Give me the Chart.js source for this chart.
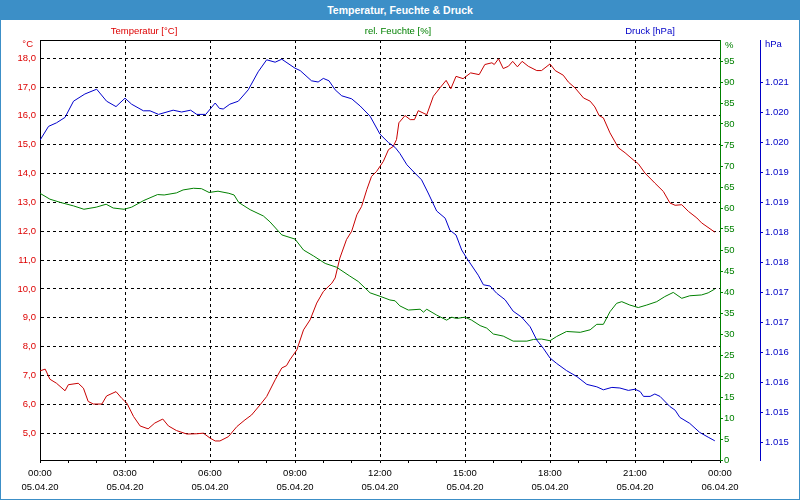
<!DOCTYPE html>
<html>
<head>
<meta charset="utf-8">
<script src="https://cdn.jsdelivr.net/npm/chart.js@4/dist/chart.umd.min.js"></script>
<style>
  body { margin: 0; background: #fff; font-family: "Liberation Sans", Arial, sans-serif; }
  #wrap { position: relative; width: 800px; height: 500px; overflow: hidden; }
  #frame { position: absolute; left: 0; top: 0; width: 800px; height: 500px; box-sizing: border-box;
           border: 1px solid #3c8fc7; pointer-events: none; }
  #title { position: absolute; left: 0; top: 0; width: 800px; height: 20px; background: #3c8fc7;
           color: #fff; font-weight: bold; font-size: 10.5px; line-height: 20px; text-align: center; }
  canvas { position: absolute; left: 0; top: 0; }
  .lbl { position: absolute; font-size: 9.5px; white-space: nowrap; line-height: 12px; }
</style>
</head>
<body>
<div id="wrap">
  <canvas id="chart" width="800" height="500"></canvas>
  <div id="title">Temperatur, Feuchte &amp; Druck</div>
  <div class="lbl" style="left:144px;top:25px;transform:translateX(-50%);color:#dd0000">Temperatur [°C]</div>
  <div class="lbl" style="left:398px;top:25px;transform:translateX(-50%);color:#008000">rel. Feuchte [%]</div>
  <div class="lbl" style="left:650px;top:25px;transform:translateX(-50%);color:#0000c8">Druck [hPa]</div>
  <div class="lbl" style="right:767px;top:38px;color:#dd0000">°C</div>
  <div class="lbl" style="left:725px;top:39px;color:#008000">%</div>
  <div class="lbl" style="left:765px;top:38px;color:#0000c8">hPa</div>
  <div id="frame"></div>
</div>
<script>
// === Data (time in minutes since 05.04.20 00:00) ===
const tempTime = [0,11,21,35,53,60,81,92,102,113,131,141,161,173,184,198,212,229,243,260,
  272,289,311,332,346,360,371,381,399,417,434,448,466,480,498,512,522,529,544,558,
  572,586,600,618,625,635,649,660,671,681,692,702,713,727,738,748,755,760,773,784,
  793,801,819,833,847,860,870,881,896,912,930,942,957,962,971,981,992,1001,1011,1021,
  1034,1052,1062,1080,1091,1108,1119,1133,1151,1165,1175,1184,1193,1207,1225,1239,1256,1267,1281,1302,
  1320,1334,1345,1359,1373,1391,1401,1429];
const tempVal = [7.16,7.22,6.87,6.73,6.47,6.68,6.73,6.56,6.10,6.01,6.01,6.29,6.44,6.21,6.04,5.58,5.25,5.15,5.35,5.49,
  5.25,5.09,4.97,4.98,5.00,4.83,4.73,4.73,4.88,5.23,5.46,5.63,5.98,6.27,6.85,7.26,7.34,7.54,7.89,8.58,
  8.93,9.51,9.91,10.20,10.38,11.07,11.71,12.00,12.57,12.86,13.44,13.90,14.08,14.42,14.83,14.94,15.18,15.76,16.01,15.87,
  15.87,16.18,16.04,16.68,16.97,17.23,16.94,17.37,17.29,17.49,17.43,17.78,17.84,17.78,17.98,17.64,17.72,17.89,17.70,17.89,
  17.72,17.57,17.57,17.80,17.57,17.41,17.17,16.97,16.62,16.51,16.31,16.01,15.93,15.41,14.89,14.72,14.48,14.34,14.02,13.67,
  13.38,12.98,12.90,12.92,12.69,12.46,12.29,11.97];

const humTime = [0,21,44,71,93,119,140,155,178,194,220,249,263,289,303,325,342,358,377,400,
  411,421,445,473,487,512,540,558,579,604,628,656,674,699,722,741,752,762,780,805,
  812,819,840,861,872,882,900,914,932,946,960,981,1002,1031,1045,1062,1080,1094,1115,1144,
  1165,1179,1193,1207,1221,1232,1249,1267,1285,1306,1323,1341,1359,1376,1401,1415,1429];
const humVal = [63.5,62.1,61.3,60.5,59.7,60.2,60.9,60.0,59.7,60.2,61.8,63.2,63.1,63.6,64.3,64.7,64.6,63.7,64.0,63.5,
  63.1,61.3,59.6,58.1,56.7,53.6,52.6,50.0,48.6,46.8,45.9,43.8,42.5,39.8,38.9,38.1,37.9,36.7,35.7,35.9,
  35.2,35.9,34.5,33.3,34.0,33.7,34.0,33.3,32.0,31.4,30.0,29.5,28.3,28.3,28.7,28.8,28.4,29.4,30.6,30.4,
  31.0,32.3,32.3,35.3,37.3,37.7,36.9,36.3,36.9,37.7,38.9,39.9,38.5,39.1,39.3,39.8,40.7];

const pressTime = [0,18,35,53,71,95,120,141,161,180,194,219,233,251,282,300,319,332,351,371,
  380,388,402,420,441,462,480,498,512,540,551,575,589,600,612,625,639,660,678,699,
  720,738,752,762,777,794,808,822,840,858,868,881,893,904,928,939,953,967,985,1002,
  1020,1038,1052,1066,1080,1094,1115,1137,1158,1179,1193,1211,1228,1246,1260,1271,1278,1292,1302,1313,
  1334,1345,1355,1376,1397,1415,1429];
const pressVal = [1019.83,1020.06,1020.12,1020.21,1020.48,1020.60,1020.68,1020.48,1020.39,1020.53,
  1020.43,1020.32,1020.32,1020.26,1020.33,1020.30,1020.33,1020.26,1020.26,1020.45,
  1020.36,1020.35,1020.43,1020.48,1020.67,1020.97,1021.17,1021.13,1021.18,1021.03,
  1020.99,1020.82,1020.80,1020.86,1020.82,1020.67,1020.57,1020.52,1020.40,1020.23,
  1019.93,1019.79,1019.71,1019.61,1019.42,1019.28,1019.17,1018.95,1018.65,1018.53,
  1018.33,1018.25,1018.00,1017.86,1017.58,1017.42,1017.40,1017.28,1017.17,1016.98,
  1016.88,1016.72,1016.50,1016.36,1016.20,1016.11,1015.99,1015.89,1015.76,1015.72,
  1015.67,1015.71,1015.70,1015.66,1015.68,1015.64,1015.56,1015.56,1015.60,1015.56,
  1015.39,1015.33,1015.21,1015.11,1014.96,1014.88,1014.82];

// axis ticks
const tempTicks = [5,6,7,8,9,10,11,12,13,14,15,16,17,18];
const humTicks = [0,5,10,15,20,25,30,35,40,45,50,55,60,65,70,75,80,85,90,95];
const pressTicks = [1014.8,1015.3,1015.8,1016.3,1016.8,1017.3,1017.8,1018.3,1018.8,1019.3,1019.8,1020.3,1020.8];
const dayLabels = ["05.04.20", "06.04.20"];

const pts = (t, v) => t.map((x, i) => ({ x: x, y: v[i] }));
const font = { family: "Liberation Sans, Arial, sans-serif", size: 9.5 };

// top frame line of the plot area
const topLine = {
  id: 'topLine',
  afterDraw(c) {
    const a = c.chartArea, ctx = c.ctx;
    ctx.save();
    ctx.strokeStyle = '#000';
    ctx.lineWidth = 1;
    ctx.beginPath();
    ctx.moveTo(a.left, Math.round(a.top) + 0.5);
    ctx.lineTo(a.right, Math.round(a.top) + 0.5);
    ctx.stroke();
    ctx.restore();
  }
};

new Chart(document.getElementById('chart'), {
  type: 'line',
  data: {
    datasets: [
      { data: pts(pressTime, pressVal), yAxisID: 'yP', borderColor: '#0000cc', borderWidth: 1, pointRadius: 0 },
      { data: pts(humTime, humVal), yAxisID: 'yH', borderColor: '#008000', borderWidth: 1, pointRadius: 0 },
      { data: pts(tempTime, tempVal), yAxisID: 'yT', borderColor: '#c80000', borderWidth: 1, pointRadius: 0 }
    ]
  },
  options: {
    responsive: false,
    animation: false,
    layout: { padding: { top: 40, left: 0, right: 0, bottom: 0 } },
    plugins: { legend: { display: false }, tooltip: { enabled: false } },
    scales: {
      x: {
        type: 'linear',
        min: 0,
        max: 1440,
        afterBuildTicks: s => { s.ticks = []; for (let m = 0; m <= 1440; m += 60) s.ticks.push({ value: m }); },
        afterFit: s => { s.height = 40; },
        ticks: {
          autoSkip: false,
          maxRotation: 0,
          padding: 3,
          color: '#000',
          font: { ...font, lineHeight: 1.5 },
          callback: v => {
            if (v % 180 !== 0) return '';
            const h = (v / 60) % 24;
            return [String(h).padStart(2, '0') + ':00', dayLabels[v >= 1440 ? 1 : 0]];
          }
        },
        grid: {
          color: c => (c.tick && c.tick.value % 180 === 0 && c.tick.value > 0 && c.tick.value < 1440) ? '#000' : 'rgba(0,0,0,0)',
          tickColor: '#000',
          tickLength: 3,
          lineWidth: 1
        },
        border: { color: '#000', width: 1, dash: [3, 3] }
      },
      yT: {
        position: 'left',
        min: 4.07,
        max: 18.63,
        afterBuildTicks: s => { s.ticks = tempTicks.map(v => ({ value: v })); },
        afterFit: s => { s.width = 40; },
        ticks: { color: '#dd0000', font: font, padding: 4, callback: v => v.toFixed(1).replace('.', ',') },
        grid: { color: '#000', drawTicks: false, lineWidth: 1 },
        border: { color: '#000', width: 1, dash: [3, 3] }
      },
      yH: {
        position: 'right',
        weight: 0,
        min: 0,
        max: 100,
        afterBuildTicks: s => { s.ticks = humTicks.map(v => ({ value: v })); },
        afterFit: s => { s.width = 40; },
        ticks: { color: '#008000', font: font, padding: 1 },
        grid: { drawOnChartArea: false, tickColor: '#008000', tickLength: 3 },
        border: { color: '#008000', width: 1 }
      },
      yP: {
        position: 'right',
        weight: 1,
        min: 1014.5,
        max: 1021.5,
        afterBuildTicks: s => { s.ticks = pressTicks.map(v => ({ value: v })); },
        afterFit: s => { s.width = 40; },
        ticks: { color: '#0000c8', font: font, padding: 2, callback: v => (v / 1000).toFixed(3) },
        grid: { drawOnChartArea: false, tickColor: '#0000c8', tickLength: 3 },
        border: { color: '#0000c8', width: 1 }
      }
    }
  },
  plugins: [topLine]
});
</script>
</body>
</html>
